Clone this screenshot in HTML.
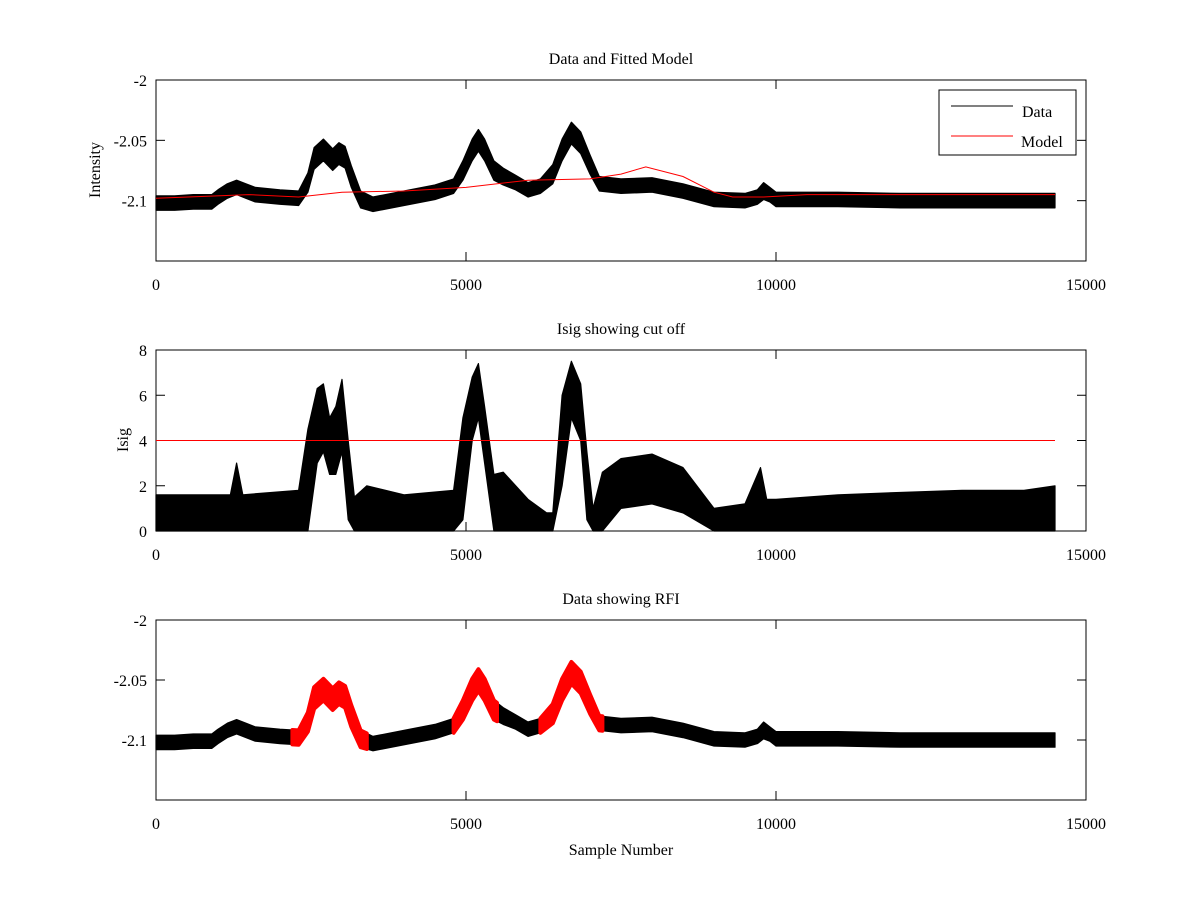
<!DOCTYPE html>
<html><head><meta charset="utf-8"><style>
html,body{margin:0;padding:0;background:#fff;}
svg text{font-family:"Liberation Serif",serif;font-size:16px;fill:#000;}
</style></head><body>
<svg id="fig" width="1200" height="900" xmlns="http://www.w3.org/2000/svg"></svg>
<script>
// ---- data ----
const samples = [0,300,600,900,1000,1150,1300,1450,1600,2000,2300,2450,2550,2700,2850,2950,3050,3150,3300,3500,4000,4500,4800,4950,5100,5200,5300,5450,5600,5800,6000,6200,6400,6550,6700,6850,7000,7150,7500,8000,8500,9000,9500,9700,9800,9900,10000,11000,12000,13000,14000,14500];
const dataCenter = [-2.102,-2.102,-2.101,-2.101,-2.097,-2.092,-2.089,-2.092,-2.095,-2.097,-2.098,-2.085,-2.065,-2.058,-2.066,-2.061,-2.064,-2.08,-2.099,-2.103,-2.098,-2.093,-2.088,-2.075,-2.058,-2.05,-2.058,-2.075,-2.08,-2.085,-2.091,-2.088,-2.078,-2.058,-2.044,-2.052,-2.07,-2.086,-2.088,-2.087,-2.092,-2.099,-2.1,-2.097,-2.092,-2.095,-2.099,-2.099,-2.1,-2.1,-2.1,-2.1];
const dataHalf = [0.006,0.006,0.006,0.006,0.006,0.006,0.006,0.006,0.006,0.006,0.006,0.008,0.009,0.009,0.009,0.009,0.009,0.009,0.007,0.006,0.006,0.006,0.006,0.008,0.009,0.009,0.009,0.008,0.007,0.006,0.006,0.006,0.008,0.009,0.009,0.009,0.008,0.006,0.006,0.006,0.006,0.006,0.006,0.006,0.007,0.006,0.006,0.006,0.006,0.006,0.006,0.006];
const modelX = [0,1500,2300,3000,4000,5000,6000,7000,7500,7900,8500,9000,9300,9800,10500,14500];
const modelY = [-2.098,-2.095,-2.097,-2.093,-2.092,-2.089,-2.083,-2.082,-2.078,-2.072,-2.08,-2.093,-2.097,-2.097,-2.095,-2.095];
const isigX = [0,1200,1300,1400,2300,2450,2600,2700,2800,2900,3000,3100,3200,3400,4000,4800,4950,5100,5200,5300,5450,5600,6000,6300,6400,6550,6700,6850,6950,7050,7200,7500,8000,8500,9000,9500,9750,9850,10000,11000,12000,13000,14000,14500];
const isigHi = [1.6,1.6,3.0,1.6,1.8,4.5,6.3,6.5,5.0,5.5,6.7,4.0,1.5,2.0,1.6,1.8,5.0,6.8,7.4,5.5,2.5,2.6,1.4,0.8,0.8,6.0,7.5,6.5,3.5,1.0,2.6,3.2,3.4,2.8,1.0,1.2,2.8,1.4,1.4,1.6,1.7,1.8,1.8,2.0];
const isigLo = [0,0,0,0,0,0,3.0,3.5,2.5,2.5,3.5,0.5,0,0,0,0,0.5,4.0,5.0,3.0,0,0,0,0,0,2.0,5.0,4.0,0.5,0,0,1.0,1.2,0.8,0,0,0,0,0,0,0,0,0,0];
const cutoff = 4;
const rfiRanges = [[2200,3400],[4800,5500],[6200,7200]];
const xTicks = [0,5000,10000,15000];
const yTicksInt = [-2,-2.05,-2.1];
const yTicksIsig = [0,2,4,6,8];

// ---- drawing ----
const NS="http://www.w3.org/2000/svg", svg=document.getElementById('fig');
function el(t,a,p){const e=document.createElementNS(NS,t);for(const k in a)e.setAttribute(k,a[k]);(p||svg).appendChild(e);return e;}
function txt(s,a,p){const e=el('text',a,p);e.textContent=s;return e;}
const X0=156,X1=1086;
const sx=v=>X0+(v/15000)*(X1-X0);
function interp(xs,ys,x){for(let i=0;i<xs.length-1;i++){if(x<=xs[i+1]){const t=(x-xs[i])/(xs[i+1]-xs[i]);return ys[i]+t*(ys[i+1]-ys[i]);}}return ys[ys.length-1];}
function band(xs,lo,hi,sy,color,g,from,to){
  const pts=[];const sel=[];
  const a=from===undefined?xs[0]:from,b=to===undefined?xs[xs.length-1]:to;
  sel.push(a);xs.forEach(x=>{if(x>a&&x<b)sel.push(x);});sel.push(b);
  sel.forEach(x=>pts.push(sx(x).toFixed(1)+','+sy(interp(xs,hi,x)).toFixed(1)));
  sel.slice().reverse().forEach(x=>pts.push(sx(x).toFixed(1)+','+sy(interp(xs,lo,x)).toFixed(1)));
  return el('polygon',{points:pts.join(' '),fill:color,stroke:color,'stroke-width':1.2,'stroke-linejoin':'round'},g);
}
function axes(name,top,bot,sy,yt,fmt,title){
  const g=el('g',{});
  
  
  el('rect',{x:X0,y:top,width:X1-X0,height:bot-top,fill:'none',stroke:'#000','stroke-width':1},g);
  xTicks.forEach(t=>{const x=sx(t);el('line',{x1:x,y1:bot,x2:x,y2:bot-9,stroke:'#000'},g);el('line',{x1:x,y1:top,x2:x,y2:top+9,stroke:'#000'},g);
    const l=txt(String(t),{x:x,y:bot+29,'text-anchor':'middle'},g);});
  yt.forEach(t=>{const y=sy(t);el('line',{x1:X0,y1:y,x2:X0+9,y2:y,stroke:'#000'},g);el('line',{x1:X1,y1:y,x2:X1-9,y2:y,stroke:'#000'},g);
    const l=txt(fmt(t),{x:X0-9,y:y+6,'text-anchor':'end'},g);});
  const tt=txt(title,{x:(X0+X1)/2,y:top-16,'text-anchor':'middle'},g);
  
  return g;
}
const fmtI=t=>t===-2?'-2':String(t);
// panel 1
const sy1=v=>80+(-2-v)/0.15*181;
const g1=axes('panel-fitted-model',80,261,sy1,yTicksInt,fmtI,'Data and Fitted Model');
const lo1=dataCenter.map((c,i)=>c-dataHalf[i]),hi1=dataCenter.map((c,i)=>c+dataHalf[i]);
const b1=band(samples,lo1,hi1,sy1,'#000',g1);

const m=el('polyline',{points:modelX.map((x,i)=>sx(x).toFixed(1)+','+sy1(modelY[i]).toFixed(1)).join(' '),fill:'none',stroke:'#f00','stroke-width':1},g1);

const yl1=txt('Intensity',{x:0,y:0,transform:'translate(100,170) rotate(-90)','text-anchor':'middle'},g1);

const lg=el('g',{},g1);

el('rect',{x:939,y:90,width:137,height:65,fill:'#fff',stroke:'#000'},lg);
el('line',{x1:951,y1:106,x2:1013,y2:106,stroke:'#000'},lg);
el('line',{x1:951,y1:136,x2:1013,y2:136,stroke:'#f00'},lg);
const le1=txt('Data',{x:1022,y:117},lg);
const le2=txt('Model',{x:1021,y:147},lg);
// panel 2
const sy2=v=>531-v/8*181;
const g2=axes('panel-isig',350,531,sy2,yTicksIsig,t=>String(t),'Isig showing cut off');
const b2=band(isigX,isigLo,isigHi,sy2,'#000',g2);

const cl=el('line',{x1:sx(0),y1:sy2(cutoff),x2:sx(14500),y2:sy2(cutoff),stroke:'#f00'},g2);

const yl2=txt('Isig',{x:0,y:0,transform:'translate(128,440) rotate(-90)','text-anchor':'middle'},g2);

// panel 3
const sy3=v=>620+(-2-v)/0.15*180;
const g3=axes('panel-rfi',620,800,sy3,yTicksInt,fmtI,'Data showing RFI');
const b3=band(samples,lo1,hi1,sy3,'#000',g3);

rfiRanges.forEach(r=>{const p=band(samples,lo1,hi1,sy3,'#f00',g3,r[0],r[1]);p.setAttribute('stroke-width',4);
  });
const xl=txt('Sample Number',{x:621,y:855,'text-anchor':'middle'});

</script>
</body></html>
